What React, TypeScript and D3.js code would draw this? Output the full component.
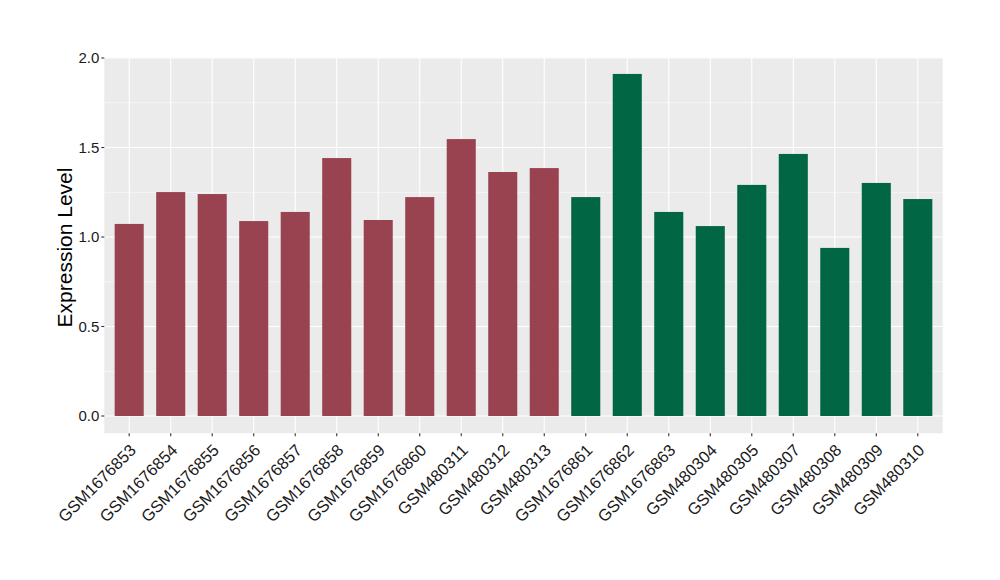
import React from "react";
import * as d3 from "d3";

const samples = [
  "GSM1676853", "GSM1676854", "GSM1676855", "GSM1676856", "GSM1676857",
  "GSM1676858", "GSM1676859", "GSM1676860", "GSM480311", "GSM480312",
  "GSM480313", "GSM1676861", "GSM1676862", "GSM1676863", "GSM480304",
  "GSM480305", "GSM480307", "GSM480308", "GSM480309", "GSM480310",
];
const values = [
  1.073, 1.251, 1.240, 1.089, 1.140, 1.441, 1.095, 1.223, 1.547, 1.363,
  1.385, 1.223, 1.911, 1.140, 1.061, 1.291, 1.464, 0.939, 1.302, 1.212,
];
const groups = [
  "A", "A", "A", "A", "A", "A", "A", "A", "A", "A",
  "A", "B", "B", "B", "B", "B", "B", "B", "B", "B",
];
const groupColors: Record<string, string> = { A: "#994250", B: "#006644" };
const yTicks = [0, 0.5, 1.0, 1.5, 2.0];
const yMinor = [0.25, 0.75, 1.25, 1.75];

export default function App() {
  const W = 1000, H = 580;
  const left = 104.3, right = 942.7, top = 57.7, bottom = 433.3;
  const font = "'Liberation Sans', Arial, Helvetica, sans-serif";

  const x = d3
    .scalePoint<string>()
    .domain(samples)
    .range([left, right])
    .padding(0.6);
  const step = x.step();
  const bw = step * 0.7;

  // y: 0 -> 416 px, 2.0 -> 58 px
  const y = d3.scaleLinear().domain([0, 2]).range([416, 58]);

  return (
    <svg width={W} height={H} style={{ display: "block", position: "absolute", left: 0, top: 0 }}>
      <rect x={0} y={0} width={W} height={H} fill="#ffffff" />
      <rect x={left} y={top} width={right - left} height={bottom - top} fill="#ebebeb" />
      {yMinor.map((v) => (
        <line key={"mn" + v} x1={left} x2={right} y1={y(v)} y2={y(v)} stroke="#ffffff" strokeWidth={0.55} />
      ))}
      {yTicks.map((v) => (
        <line key={"mj" + v} x1={left} x2={right} y1={y(v)} y2={y(v)} stroke="#ffffff" strokeWidth={1.1} />
      ))}
      {samples.map((s) => (
        <line key={"vx" + s} x1={x(s)} x2={x(s)} y1={top} y2={bottom} stroke="#ffffff" strokeWidth={1.1} />
      ))}
      {samples.map((s, i) => (
        <rect
          key={"b" + s}
          x={(x(s) as number) - bw / 2}
          y={y(values[i])}
          width={bw}
          height={y(0) - y(values[i])}
          fill={groupColors[groups[i]]}
        />
      ))}
      {yTicks.map((v) => (
        <g key={"yt" + v}>
          <line x1={left - 3} x2={left} y1={y(v)} y2={y(v)} stroke="#333333" strokeWidth={1.1} />
          <text x={left - 5} y={y(v)} dy="0.36em" textAnchor="end" fontFamily={font} fontSize={15} fill="#1a1a1a">
            {d3.format(".1f")(v)}
          </text>
        </g>
      ))}
      {samples.map((s) => (
        <g key={"xt" + s}>
          <line x1={x(s)} x2={x(s)} y1={bottom} y2={bottom + 3} stroke="#333333" strokeWidth={1.1} />
          <text
            transform={`translate(${(x(s) as number) + 7.7},${bottom + 18}) rotate(-45)`}
            textAnchor="end"
            fontFamily={font}
            fontSize={16.5}
            fill="#1a1a1a"
          >
            {s}
          </text>
        </g>
      ))}
      <text
        transform={`translate(72,${(top + bottom) / 2 + 2}) rotate(-90)`}
        textAnchor="middle"
        fontFamily={font}
        fontSize={21}
        fill="#000000"
      >
        Expression Level
      </text>
    </svg>
  );
}
